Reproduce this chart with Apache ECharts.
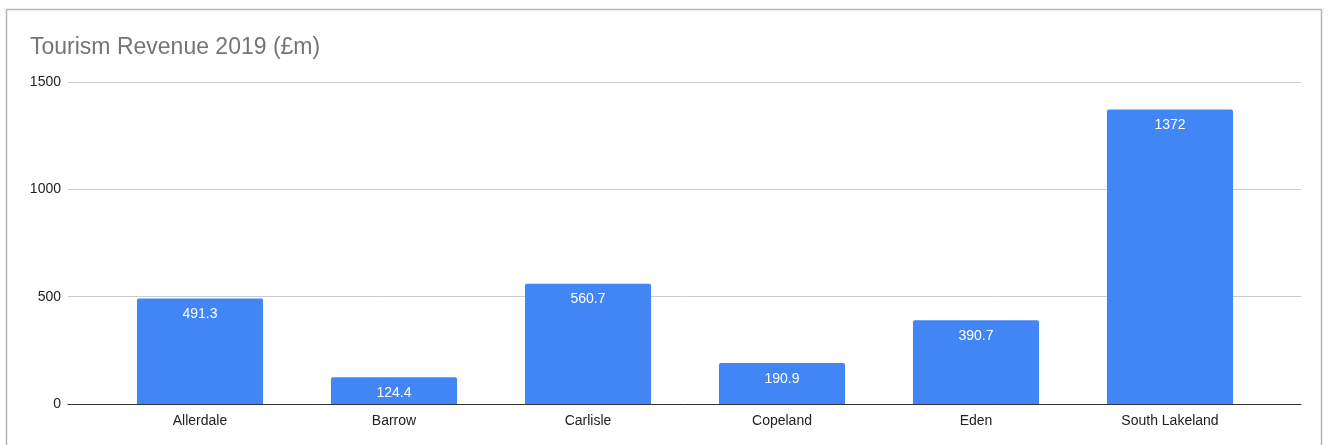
<!DOCTYPE html>
<html>
<head>
<meta charset="utf-8">
<script src="https://cdn.jsdelivr.net/npm/echarts@6/dist/echarts.min.js"></script>
<style>
  html, body { margin: 0; padding: 0; background: #fff; }
  #main { width: 1328px; height: 445px; }
</style>
</head>
<body>
<div id="main"></div>
<script>
var categories = ['Allerdale', 'Barrow', 'Carlisle', 'Copeland', 'Eden', 'South Lakeland'];
var revenue = [491.3, 124.4, 560.7, 190.9, 390.7, 1372];
var yTicks = [0, 500, 1000, 1500];

var chart = echarts.init(document.getElementById('main'));

var yMin = yTicks[0], yMax = yTicks[yTicks.length - 1];

var option = {
  animation: false,
  textStyle: { fontFamily: 'Liberation Sans, Arial, sans-serif' },
  title: {
    text: 'Tourism Revenue 2019 (£m)',
    left: 25,
    top: 31,
    textStyle: { fontSize: 23, fontWeight: 'normal', color: '#757575' }
  },
  graphic: [{
    type: 'rect',
    shape: { x: 6.5, y: 9.5, width: 1315, height: 470 },
    style: { fill: 'none', stroke: '#b7b7b7', lineWidth: 1.5 },
    silent: true
  }],
  grid: [
    // full-width grid: gridlines, y labels and baseline
    { left: 68, right: 27, top: 82, bottom: 41 },
    // inset grid for the bars
    { left: 103, right: 61, top: 82, bottom: 41 }
  ],
  xAxis: [{
    gridIndex: 0,
    type: 'value',
    min: 0, max: 1,
    axisLine: { show: true, onZero: false, lineStyle: { color: '#333', width: 1 } },
    axisTick: { show: false },
    axisLabel: { show: false },
    splitLine: { show: false }
  }, {
    gridIndex: 1,
    type: 'category',
    data: categories,
    axisTick: { show: false },
    axisLine: { show: false },
    axisLabel: { color: '#222', fontSize: 14, margin: 10 }
  }],
  yAxis: [{
    gridIndex: 0,
    type: 'value',
    min: yMin, max: yMax,
    interval: 500,
    axisLine: { show: false },
    axisTick: { show: false },
    axisLabel: { color: '#222', fontSize: 14, margin: 7, formatter: function (v) { return String(v); } },
    splitLine: { lineStyle: { color: '#cccccc' } }
  }, {
    gridIndex: 1,
    type: 'value',
    min: yMin, max: yMax,
    interval: 500,
    show: false
  }],
  series: [{
    type: 'bar',
    xAxisIndex: 1,
    yAxisIndex: 1,
    data: revenue,
    barWidth: '65%',
    itemStyle: { color: '#4285f4', borderRadius: [2, 2, 0, 0] },
    label: {
      show: true,
      position: 'insideTop',
      distance: 9,
      color: '#fff',
      fontSize: 14
    }
  }]
};

chart.setOption(option);
</script>
</body>
</html>
